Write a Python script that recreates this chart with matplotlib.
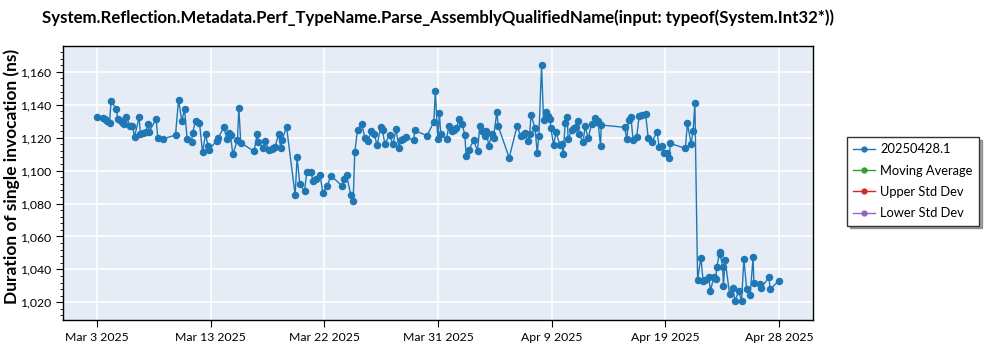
import matplotlib
matplotlib.use("Agg")
import matplotlib.pyplot as plt
import matplotlib.dates as mdates
from matplotlib.ticker import FuncFormatter, MultipleLocator
from matplotlib.lines import Line2D
import numpy as np
import pandas as pd

title = "System.Reflection.Metadata.Perf_TypeName.Parse_AssemblyQualifiedName(input: typeof(System.Int32*))"
y_label = "Duration of single invocation (ns)"
series_labels = ["20250428.1", "Moving Average", "Upper Std Dev", "Lower Std Dev"]
series_colors = ["#1f77b4", "#2ca02c", "#d62728", "#9467bd"]

run_times = [
    "2025-03-03 18:00", "2025-03-04 05:48", "2025-03-04 10:30", "2025-03-04 14:24", "2025-03-04 18:24",
    "2025-03-04 21:30", "2025-03-05 08:06", "2025-03-05 10:42", "2025-03-05 16:30", "2025-03-05 21:06",
    "2025-03-05 23:48", "2025-03-06 03:42", "2025-03-06 10:48", "2025-03-06 15:30", "2025-03-06 19:30",
    "2025-03-07 04:30", "2025-03-07 07:12", "2025-03-07 12:18", "2025-03-07 17:06", "2025-03-07 22:12",
    "2025-03-08 00:06", "2025-03-08 13:54", "2025-03-08 17:12", "2025-03-09 03:36", "2025-03-10 04:00",
    "2025-03-10 09:54", "2025-03-10 16:24", "2025-03-10 21:42", "2025-03-11 02:48", "2025-03-11 11:24",
    "2025-03-11 13:24", "2025-03-11 19:18", "2025-03-12 03:06", "2025-03-12 09:00", "2025-03-12 14:54",
    "2025-03-12 20:00", "2025-03-12 21:24", "2025-03-13 12:30", "2025-03-13 15:36", "2025-03-14 02:48",
    "2025-03-14 09:18", "2025-03-14 12:42", "2025-03-14 16:00", "2025-03-14 20:30", "2025-03-15 05:42",
    "2025-03-15 08:18", "2025-03-15 12:12", "2025-03-16 14:18", "2025-03-16 20:12", "2025-03-16 22:12",
    "2025-03-17 07:24", "2025-03-17 12:00", "2025-03-17 19:48", "2025-03-18 00:30", "2025-03-18 03:42",
    "2025-03-18 07:36", "2025-03-18 14:18", "2025-03-18 18:48", "2025-03-18 21:18", "2025-03-19 06:00",
    "2025-03-19 22:54", "2025-03-20 02:48", "2025-03-20 08:06", "2025-03-20 17:18", "2025-03-20 21:54",
    "2025-03-21 05:42", "2025-03-21 10:12", "2025-03-21 14:54", "2025-03-22 00:00", "2025-03-22 05:18",
    "2025-03-22 13:42", "2025-03-22 21:36", "2025-03-23 18:36", "2025-03-23 23:06", "2025-03-24 03:48",
    "2025-03-24 12:18", "2025-03-24 16:48", "2025-03-24 20:06", "2025-03-25 01:24", "2025-03-25 09:54",
    "2025-03-25 15:48", "2025-03-25 21:42", "2025-03-26 04:06", "2025-03-26 10:00", "2025-03-26 15:54",
    "2025-03-26 22:36", "2025-03-27 02:30", "2025-03-27 07:00", "2025-03-27 16:18", "2025-03-27 22:48",
    "2025-03-28 05:12", "2025-03-28 10:30", "2025-03-28 14:30", "2025-03-28 19:24", "2025-03-29 00:54",
    "2025-03-29 16:00", "2025-03-29 17:24", "2025-03-30 18:06", "2025-03-31 07:18", "2025-03-31 10:12",
    "2025-03-31 15:06", "2025-03-31 18:06", "2025-03-31 21:00", "2025-04-01 08:12", "2025-04-01 12:42",
    "2025-04-01 19:12", "2025-04-01 23:06", "2025-04-02 03:06", "2025-04-02 09:00", "2025-04-02 14:54",
    "2025-04-02 20:12", "2025-04-02 22:42", "2025-04-03 04:00", "2025-04-03 13:18", "2025-04-03 21:06",
    "2025-04-04 01:36", "2025-04-04 06:06", "2025-04-04 10:54", "2025-04-04 14:00", "2025-04-04 19:18",
    "2025-04-05 00:36", "2025-04-05 04:30", "2025-04-05 11:00", "2025-04-05 13:36", "2025-04-06 11:12",
    "2025-04-07 02:54", "2025-04-07 09:36", "2025-04-07 14:06", "2025-04-07 18:00", "2025-04-08 00:30",
    "2025-04-08 03:12", "2025-04-08 06:24", "2025-04-08 14:12", "2025-04-08 18:12", "2025-04-08 21:30",
    "2025-04-09 02:48", "2025-04-09 06:42", "2025-04-09 11:12", "2025-04-09 15:48", "2025-04-09 19:42",
    "2025-04-09 21:06", "2025-04-10 02:24", "2025-04-10 07:30", "2025-04-10 14:42", "2025-04-10 18:42",
    "2025-04-10 21:12", "2025-04-11 01:12", "2025-04-11 05:06", "2025-04-11 07:00", "2025-04-11 13:42",
    "2025-04-11 18:12", "2025-04-11 22:12", "2025-04-12 02:42", "2025-04-12 04:00", "2025-04-12 12:30",
    "2025-04-12 16:24", "2025-04-12 22:18", "2025-04-13 05:00", "2025-04-13 11:30", "2025-04-13 14:00",
    "2025-04-13 17:24", "2025-04-13 22:42", "2025-04-13 23:54", "2025-04-15 21:48", "2025-04-16 02:18",
    "2025-04-16 05:42", "2025-04-16 10:12", "2025-04-16 14:42", "2025-04-16 21:24", "2025-04-17 02:30",
    "2025-04-17 08:24", "2025-04-17 15:06", "2025-04-17 20:12", "2025-04-18 02:48", "2025-04-18 13:48",
    "2025-04-18 17:48", "2025-04-18 23:06", "2025-04-19 03:36", "2025-04-19 08:18", "2025-04-19 12:48",
    "2025-04-19 15:48", "2025-04-20 21:12", "2025-04-21 01:12", "2025-04-21 08:24", "2025-04-21 12:24",
    "2025-04-21 15:54", "2025-04-21 21:12", "2025-04-22 03:42", "2025-04-22 08:00", "2025-04-22 12:06",
    "2025-04-22 19:24", "2025-04-22 22:18", "2025-04-23 05:12", "2025-04-23 08:30", "2025-04-23 11:06",
    "2025-04-23 16:36", "2025-04-23 17:36", "2025-04-23 22:30", "2025-04-23 23:54", "2025-04-24 03:24",
    "2025-04-24 12:00", "2025-04-24 18:06", "2025-04-24 22:48", "2025-04-25 05:42", "2025-04-25 11:36",
    "2025-04-25 16:06", "2025-04-25 21:36", "2025-04-26 04:30", "2025-04-26 10:12", "2025-04-26 11:48",
    "2025-04-26 23:12", "2025-04-27 01:30", "2025-04-27 17:12", "2025-04-27 19:48", "2025-04-28 12:54",
]

durations_ns = [
    1132.3, 1131.7, 1131.1, 1130.1, 1129.1, 1142.0, 1137.4, 1131.1, 1130.1, 1129.1,
    1128.4, 1132.3, 1127.2, 1127.2, 1120.6, 1132.3, 1122.0, 1123.0, 1123.6, 1128.1,
    1123.6, 1131.3, 1119.9, 1119.2, 1121.6, 1142.8, 1130.3, 1137.2, 1119.3, 1117.5,
    1122.6, 1130.3, 1129.1, 1111.1, 1122.0, 1114.9, 1112.5, 1118.1, 1119.6, 1126.3,
    1119.0, 1122.6, 1121.6, 1109.9, 1118.5, 1138.2, 1116.9, 1111.7, 1122.0, 1117.5,
    1113.9, 1118.1, 1112.5, 1112.9, 1113.5, 1114.5, 1122.2, 1113.5, 1118.7, 1126.6,
    1085.2, 1108.0, 1091.7, 1087.8, 1099.3, 1099.3, 1093.7, 1094.9, 1097.1, 1086.5,
    1090.8, 1096.9, 1090.8, 1094.7, 1097.1, 1085.2, 1081.3, 1111.4, 1124.8, 1128.4,
    1119.9, 1117.9, 1123.8, 1122.2, 1115.5, 1126.3, 1124.4, 1116.3, 1121.6, 1116.1,
    1125.0, 1113.9, 1118.5, 1119.2, 1120.2, 1118.4, 1124.4, 1121.2, 1129.7, 1148.2,
    1119.0, 1135.1, 1122.0, 1119.0, 1127.2, 1124.2, 1124.6, 1125.7, 1131.1, 1128.1,
    1121.6, 1108.8, 1112.3, 1118.4, 1112.1, 1127.1, 1124.0, 1121.0, 1123.8, 1115.1,
    1122.0, 1119.9, 1135.7, 1127.1, 1107.8, 1127.2, 1121.0, 1121.9, 1122.6, 1117.9,
    1122.0, 1133.5, 1125.7, 1110.7, 1120.8, 1164.3, 1130.5, 1135.4, 1133.1, 1131.3,
    1125.7, 1115.8, 1123.2, 1115.5, 1115.9, 1109.9, 1128.7, 1132.7, 1119.0, 1124.6,
    1126.0, 1126.6, 1130.3, 1122.2, 1117.5, 1127.1, 1119.6, 1128.3, 1131.7, 1129.3,
    1130.1, 1114.9, 1127.7, 1126.3, 1119.0, 1130.7, 1132.3, 1118.4, 1120.2, 1133.1,
    1133.7, 1134.3, 1119.9, 1117.5, 1123.2, 1114.1, 1114.9, 1110.8, 1110.8, 1107.4,
    1116.5, 1113.5, 1128.7, 1116.4, 1123.8, 1141.2, 1033.7, 1047.2, 1033.1, 1033.4,
    1035.1, 1027.0, 1035.1, 1034.0, 1041.6, 1050.4, 1049.1, 1041.6, 1030.0, 1045.7,
    1025.0, 1029.0, 1020.9, 1026.7, 1020.8, 1046.3, 1028.0, 1024.7, 1047.3, 1031.5,
    1031.1, 1028.6, 1035.2, 1028.1, 1033.1,
]

FONT = ["Lato", "DejaVu Sans"]
plt.rcParams["font.family"] = FONT

times = pd.to_datetime(run_times)
values = np.array(durations_ns)

fig = plt.figure(figsize=(10, 3.5), dpi=100)
ax = fig.add_axes([0.063, 0.086, 0.75, 0.783])
ax.set_facecolor("#e5ecf6")

ax.plot(times, values, color=series_colors[0], linewidth=1.0,
        marker="o", markersize=5.4, markeredgewidth=0, zorder=3)

# x ticks: seven evenly spaced positions spanning the first to last run
t0 = mdates.date2num(times[0])
t1 = mdates.date2num(times[-1])
ax.set_xticks(np.linspace(t0, t1, 7))
ax.xaxis.set_major_formatter(FuncFormatter(
    lambda v, _: (lambda d: f"{d:%b} {d.day} {d.year}")(mdates.num2date(v))))
ax.margins(x=0.05)

span = values.max() - values.min()
ax.set_ylim(values.min() - 0.08 * span, values.max() + 0.08 * span)
ax.yaxis.set_major_locator(MultipleLocator(20))
ax.yaxis.set_minor_locator(MultipleLocator(4))
ax.yaxis.set_major_formatter(FuncFormatter(lambda v, _: f"{v:,.0f}"))

ax.grid(True, which="major", color="white", linewidth=1.2)
ax.set_axisbelow(True)
for s in ax.spines.values():
    s.set_color("black")
    s.set_linewidth(1.0)
ax.tick_params(axis="both", which="major", labelsize=8.8, length=5, color="black")
ax.tick_params(axis="y", which="minor", length=2.5, color="black")

fig.text(0.438, 1 - 18 / 350, title, fontsize=12.1, fontweight="bold",
         ha="center", va="center")
fig.text(0.0115, 1 - 176 / 350, y_label, fontsize=12.5, fontweight="bold",
         rotation=90, ha="center", va="center")

handles = [Line2D([], [], color=c, marker="o", markersize=3.5, linewidth=1.0)
           for c in series_colors]
leg = fig.legend(handles, series_labels, loc="upper left",
                 bbox_to_anchor=(0.847, 0.609), fontsize=9.3, frameon=True,
                 fancybox=False, shadow=True, edgecolor="#333333",
                 handlelength=1.7, borderpad=0.5, labelspacing=0.72,
                 handletextpad=0.35, borderaxespad=0)
leg.get_frame().set_linewidth(1.0)

fig.savefig("out.png", dpi=100)
